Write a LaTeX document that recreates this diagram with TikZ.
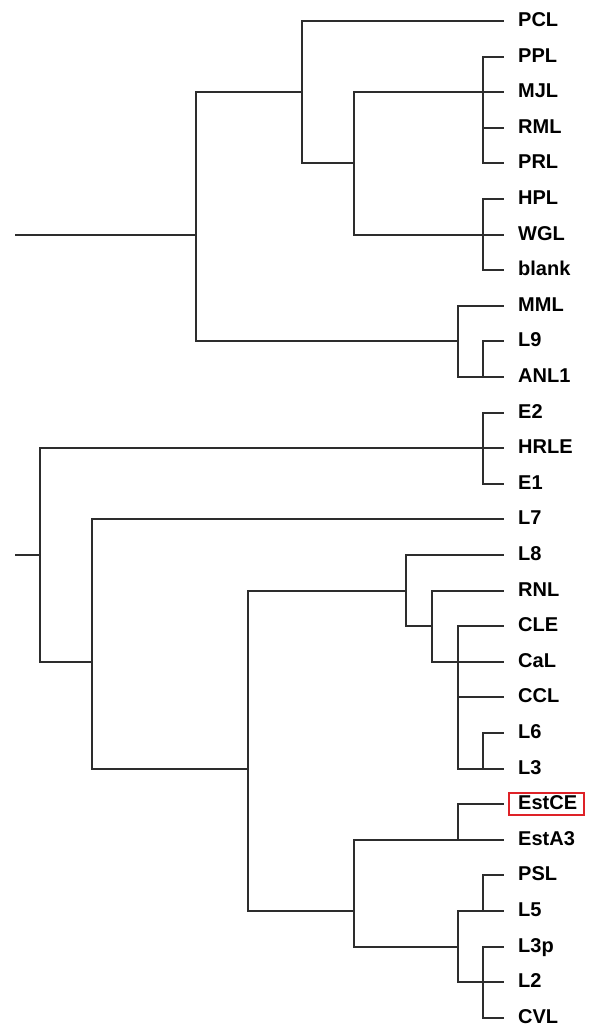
\documentclass[tikz,border=0pt]{standalone}
\usepackage{fontspec}
\setmainfont{Liberation Sans}
\usepackage{xcolor}
\usepackage{tikz}
\usetikzlibrary{calc}

\definecolor{branchgray}{RGB}{45,45,45}
\definecolor{markred}{RGB}{222,34,40}

\begin{document}
\begin{tikzpicture}[
    x=1pt, y=-1pt,
    branch/.style={draw=branchgray, line width=2pt},
    leaf/.style={anchor=west, inner xsep=14pt, inner ysep=0pt, text height=14.5pt, text depth=4.1pt, font=\fontsize{20}{24}\selectfont\bfseries},
    markbox/.style={draw=markred, line width=1.8pt},
]
\useasboundingbox[fill=white] (0,0) rectangle (593,1030);

% === LEAVES ===
\node[leaf] (PCL)   at (504,21)   {PCL};
\node[leaf] (PPL)   at (504,57)   {PPL};
\node[leaf] (MJL)   at (504,92)   {MJL};
\node[leaf] (RML)   at (504,128)  {RML};
\node[leaf] (PRL)   at (504,163)  {PRL};
\node[leaf] (HPL)   at (504,199)  {HPL};
\node[leaf] (WGL)   at (504,235)  {WGL};
\node[leaf] (blank) at (504,270)  {blank};
\node[leaf] (MML)   at (504,306)  {MML};
\node[leaf] (L9)    at (504,341)  {L9};
\node[leaf] (ANL1)  at (504,377)  {ANL1};
\node[leaf] (E2)    at (504,413)  {E2};
\node[leaf] (HRLE)  at (504,448)  {HRLE};
\node[leaf] (E1)    at (504,484)  {E1};
\node[leaf] (L7)    at (504,519)  {L7};
\node[leaf] (L8)    at (504,555)  {L8};
\node[leaf] (RNL)   at (504,591)  {RNL};
\node[leaf] (CLE)   at (504,626)  {CLE};
\node[leaf] (CaL)   at (504,662)  {CaL};
\node[leaf] (CCL)   at (504,697)  {CCL};
\node[leaf] (L6)    at (504,733)  {L6};
\node[leaf] (L3)    at (504,769)  {L3};
\node[leaf] (EstCE) at (504,804)  {EstCE};
\node[leaf] (EstA3) at (504,840)  {EstA3};
\node[leaf] (PSL)   at (504,875)  {PSL};
\node[leaf] (L5)    at (504,911)  {L5};
\node[leaf] (L3p)   at (504,947)  {L3p};
\node[leaf] (L2)    at (504,982)  {L2};
\node[leaf] (CVL)   at (504,1018) {CVL};

% highlight
\draw[markbox] ($(EstCE.west)+(5,-11)$) rectangle ($(EstCE.east)+(-7,11)$);

% === UPPER TREE ===
\coordinate (rootA) at (15,235);
\coordinate (nA)    at (196,235);
\coordinate (nB)    at (302,92);
\coordinate (nC)    at (354,163);
\coordinate (nPPL)  at (483,92);
\coordinate (nHPL)  at (483,235);
\coordinate (nMML)  at (458,341);
\coordinate (nL9)   at (483,377);

\draw[branch] (rootA) -- (nA);
\draw[branch] (nA) |- (nB);
\draw[branch] (nA) |- (nMML);
\draw[branch] (nB) |- (PCL.west);
\draw[branch] (nB) |- (nC);
\draw[branch] (nC) |- (nPPL);
\draw[branch] (nC) |- (nHPL);

\draw[branch] (nPPL) |- (PPL.west);
\draw[branch] (nPPL) -- (MJL.west);
\draw[branch] (nPPL) |- (RML.west);
\draw[branch] (nPPL) |- (PRL.west);

\draw[branch] (nHPL) |- (HPL.west);
\draw[branch] (nHPL) -- (WGL.west);
\draw[branch] (nHPL) |- (blank.west);

\draw[branch] (nMML) |- (MML.west);
\draw[branch] (nMML) |- (nL9);
\draw[branch] (nL9) |- (L9.west);
\draw[branch] (nL9) -- (ANL1.west);

% === LOWER TREE ===
\coordinate (rootE) at (15,555);
\coordinate (nE)    at (40,555);
\coordinate (nHRLE) at (483,448);
\coordinate (nF)    at (92,662);
\coordinate (nG)    at (248,769);
\coordinate (nH)    at (406,591);
\coordinate (nI)    at (432,626);
\coordinate (nJ)    at (458,662);
\coordinate (nL6)   at (483,769);
\coordinate (nK)    at (354,911);
\coordinate (nEst)  at (458,840);
\coordinate (nM)    at (458,947);
\coordinate (nPSL)  at (483,911);
\coordinate (nL3p)  at (483,982);

\draw[branch] (rootE) -- (nE);
\draw[branch] (nE) |- (nHRLE);
\draw[branch] (nE) |- (nF);
\draw[branch] (nHRLE) |- (E2.west);
\draw[branch] (nHRLE) -- (HRLE.west);
\draw[branch] (nHRLE) |- (E1.west);

\draw[branch] (nF) |- (L7.west);
\draw[branch] (nF) |- (nG);
\draw[branch] (nG) |- (nH);
\draw[branch] (nG) |- (nK);

\draw[branch] (nH) |- (L8.west);
\draw[branch] (nH) |- (nI);
\draw[branch] (nI) |- (RNL.west);
\draw[branch] (nI) |- (nJ);
\draw[branch] (nJ) |- (CLE.west);
\draw[branch] (nJ) -- (CaL.west);
\draw[branch] (nJ) |- (CCL.west);
\draw[branch] (nJ) |- (nL6);
\draw[branch] (nL6) |- (L6.west);
\draw[branch] (nL6) -- (L3.west);

\draw[branch] (nK) |- (nEst);
\draw[branch] (nK) |- (nM);
\draw[branch] (nEst) |- (EstCE.west);
\draw[branch] (nEst) -- (EstA3.west);
\draw[branch] (nM) |- (nPSL);
\draw[branch] (nM) |- (nL3p);
\draw[branch] (nPSL) |- (PSL.west);
\draw[branch] (nPSL) -- (L5.west);
\draw[branch] (nL3p) |- (L3p.west);
\draw[branch] (nL3p) -- (L2.west);
\draw[branch] (nL3p) |- (CVL.west);

\end{tikzpicture}
\end{document}
